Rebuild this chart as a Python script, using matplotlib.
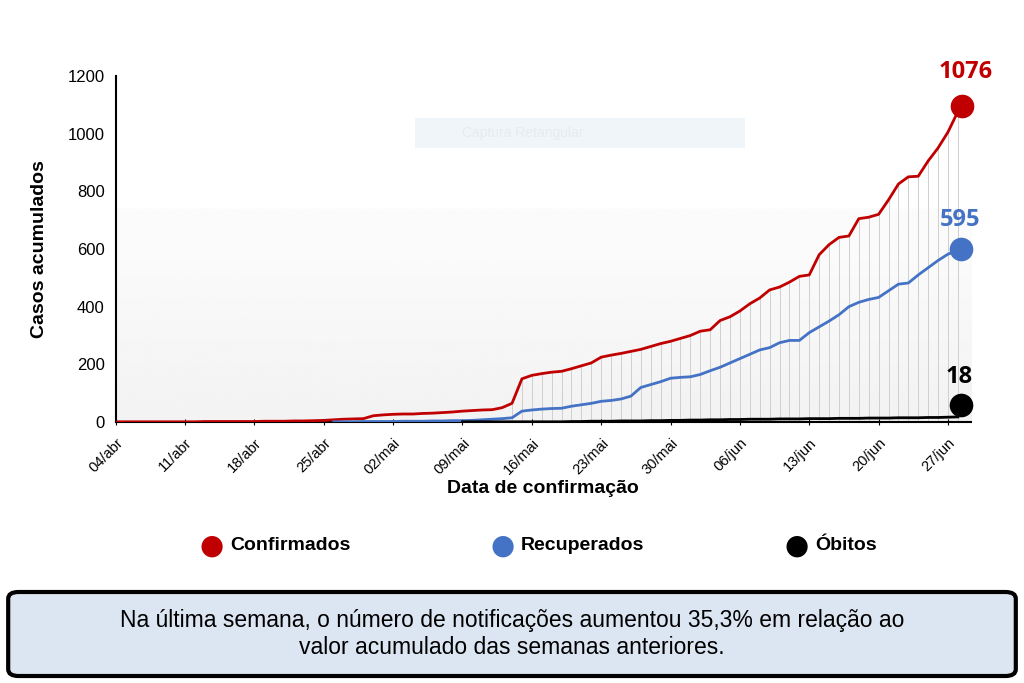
import numpy as np
import matplotlib
matplotlib.use("Agg")
import matplotlib.pyplot as plt
from matplotlib.patches import FancyBboxPatch, Rectangle

plt.rcParams["font.family"] = "Liberation Sans"

tick_labels = ["04/abr", "11/abr", "18/abr", "25/abr", "02/mai", "09/mai", "16/mai",
               "23/mai", "30/mai", "06/jun", "13/jun", "20/jun", "27/jun"]

confirmados = [1,1,1,1,1,1,1,1,1,2,2,2,2,2,2,3,3,3,4,4,5,
               6,8,10,11,12,
               22,25,27,28,28,30,31,33,35,38,40,42,43,50,65,150,162,168,173,176,
               185,195,205,225,232,238,245,252,262,272,280,290,300,315,320,352,365,
               385,410,430,458,468,485,505,510,580,615,640,645,705,710,720,770,825,
               850,852,905,950,1005,1076]
recuperados = [np.nan]*22 + [1,1,1,2,2,2,2,3,3,3,4,4,5,5,
               6,8,10,12,15,38,42,45,47,48,55,60,65,72,75,80,90,120,130,140,152,155,
               157,165,178,190,205,220,235,250,258,275,283,283,310,330,350,372,400,
               415,425,432,455,478,482,510,535,560,582,595]
obitos = [np.nan]*35 + [1]*11 + [2,2,3,3,3,4,4,4,5,5,
          6,6,7,7,8,8,9,9,10,10,10,11,11,11,12,
          12,12,13,13,13,14,14,14,15,15,15,16,16,17,18]

days = np.arange(len(confirmados))
conf = np.array(confirmados, float)
rec = np.array(recuperados, float)
obi = np.array(obitos, float)

RED, BLUE, BLACK = "#c00000", "#4472c4", "#000000"

fig = plt.figure(figsize=(10.24, 6.83), dpi=100)
ax = fig.add_axes([0.113, 0.382, 0.835, 0.507])
ax.set_xlim(0, 86.3)
ax.set_ylim(0, 1200)

grad = np.ones((200, 2))
yy = np.linspace(0, 1200, 200)
grad[:, 0] = np.where(yy > 740, 1.0, np.where(yy > 560, 0.982, 0.95 + 0.03 * yy / 560))
grad[:, 1] = grad[:, 0]
ax.imshow(grad, extent=[0, 86.3, 0, 1200], origin="lower", aspect="auto",
          cmap="gray", vmin=0, vmax=1, zorder=0)

ax.add_patch(Rectangle((30.2, 950), 33.3, 105, color="#f0f5fa", zorder=0.5, lw=0))
ax.text(35, 1002, "Captura Retangular", color="#e6ebf0", fontsize=10, va="center", zorder=0.6)

for d in days[40:]:
    ax.vlines(d, 0, conf[d], color="#cfcfcf", lw=0.7, zorder=1)

ax.plot(days, conf, color=RED, lw=2.0, zorder=3)
ax.plot(days, rec, color=BLUE, lw=2.0, zorder=3)
ax.plot(days, obi, color=BLACK, lw=2.0, zorder=3)
last = days[-1]
ax.plot(last + 0.4, conf[-1] + 20, "o", color=RED, ms=16, zorder=4, clip_on=False)
ax.plot(last + 0.3, rec[-1] + 5, "o", color=BLUE, ms=16, zorder=4, clip_on=False)
ax.plot(last + 0.3, obi[-1] + 40, "o", color=BLACK, ms=16, zorder=4, clip_on=False)
ax.text(last + 0.8, conf[-1] + 95, "1076", color=RED, fontsize=17, fontweight="bold",
        ha="center", va="bottom", family="Open Sans")
ax.text(last + 0.2, rec[-1] + 65, "595", color=BLUE, fontsize=17, fontweight="bold",
        ha="center", va="bottom", family="Open Sans")
ax.text(last + 0.1, obi[-1] + 95, "18", color=BLACK, fontsize=17, fontweight="bold",
        ha="center", va="bottom", family="Open Sans")

for s in ["top", "right"]:
    ax.spines[s].set_visible(False)
ax.spines["left"].set_linewidth(1.5)
ax.spines["bottom"].set_linewidth(1.5)
ax.set_xticks(np.arange(0, 7 * len(tick_labels), 7))
ax.set_xticklabels(tick_labels, rotation=45, ha="right", rotation_mode="anchor", fontsize=10.5)
ax.set_yticks(np.arange(0, 1201, 200))
ax.tick_params(axis="y", labelsize=12, length=0, pad=8)
ax.tick_params(axis="x", length=4, direction="inout", pad=8)
ax.set_ylabel("Casos acumulados", fontsize=14, fontweight="bold", labelpad=14)
ax.set_xlabel("Data de confirmação", fontsize=14, fontweight="bold", labelpad=2)

for xp, lab, c in [(0.207, "Confirmados", RED), (0.491, "Recuperados", BLUE), (0.778, "Óbitos", BLACK)]:
    fig.text(xp, 1 - 546 / 683, "●", color=c, fontsize=20, ha="center", va="center",
             family="DejaVu Sans")
    fig.text(xp + 0.018, 1 - 546 / 683, lab, color="black", fontsize=14,
             fontweight="bold", ha="left", va="center")

box = FancyBboxPatch((0.008, 1 - 676 / 683), 0.984, 84 / 683,
                     boxstyle="round,pad=0,rounding_size=0.01",
                     transform=fig.transFigure, facecolor="#dce6f2",
                     edgecolor="black", lw=3)
fig.patches.append(box)
fig.text(0.5, 1 - 634 / 683,
         "Na última semana, o número de notificações aumentou 35,3% em relação ao\n"
         "valor acumulado das semanas anteriores.",
         ha="center", va="center", fontsize=16.5, linespacing=1.25)

fig.savefig("out.png", dpi=100)
